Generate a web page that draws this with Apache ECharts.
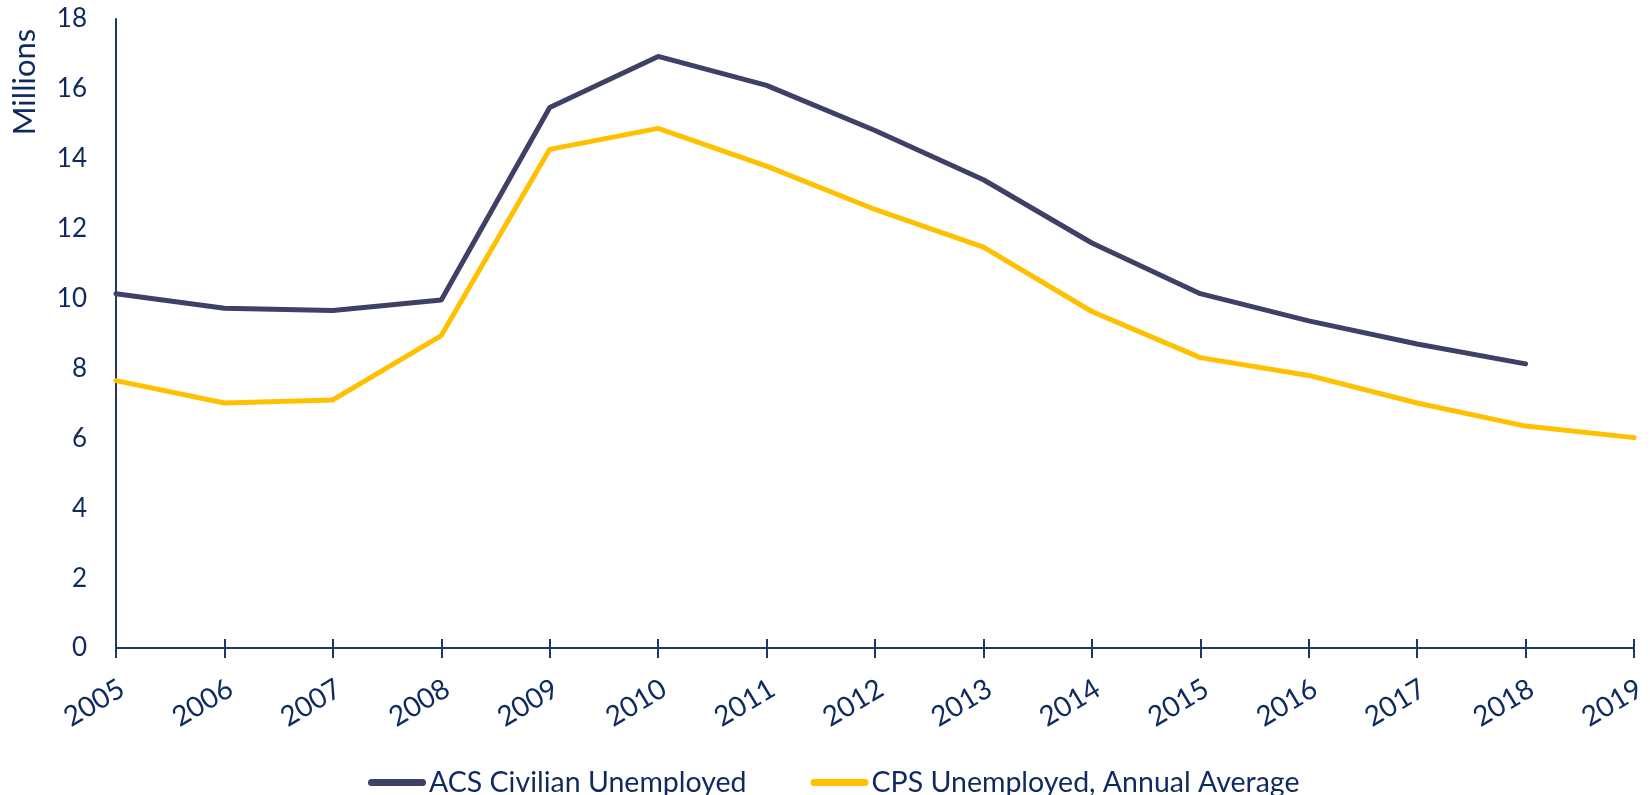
<!DOCTYPE html>
<html>
<head>
<meta charset="utf-8">
<script src="https://cdn.jsdelivr.net/npm/echarts@6/dist/echarts.min.js"></script>
<style>html,body{margin:0;padding:0;background:#fff}#c{width:1650px;height:795px}</style>
</head>
<body>
<div id="c"></div>
<script>
const years = ['2005','2006','2007','2008','2009','2010','2011','2012','2013','2014','2015','2016','2017','2018','2019'];
const acs = [10.14, 9.72, 9.66, 9.96, 15.47, 16.93, 16.1, 14.81, 13.4, 11.59, 10.14, 9.36, 8.7, 8.13, null];
const cps = [7.65, 7.01, 7.1, 8.94, 14.27, 14.87, 13.79, 12.55, 11.47, 9.63, 8.31, 7.8, 7.01, 6.35, 6.02];
const yTicks = { min: 0, max: 18, interval: 2 };
const seriesNames = ['ACS Civilian Unemployed', 'CPS Unemployed, Annual Average'];

const textColor = '#0E2A5E';
const axisColor = '#1F3864';
const font = 'Lato';

const chart = echarts.init(document.getElementById('c'));
chart.setOption({
  animation: false,
  grid: { left: 116, right: 16, top: 19, bottom: 147, containLabel: false },
  legend: {
    left: 363, top: 763,
    itemWidth: 58, itemHeight: 7, itemGap: 64,
    icon: 'path://M3.5,0 L54.5,0 A3.5,3.5 0 0 1 54.5,7 L3.5,7 A3.5,3.5 0 0 1 3.5,0 Z',
    textStyle: { color: textColor, fontFamily: font, fontSize: 28.5, padding: [0, 0, 0, -2] },
    data: seriesNames
  },
  graphic: [{
    type: 'text', x: 25, y: 82, rotation: Math.PI / 2,
    style: { text: 'Millions', fill: textColor, font: '31px Lato', align: 'center', verticalAlign: 'middle' }
  }],
  xAxis: [{
    type: 'category', data: years, boundaryGap: false,
    axisLine: { lineStyle: { color: axisColor, width: 2 } },
    axisTick: { show: true, length: 10, lineStyle: { color: axisColor, width: 2 } },
    axisLabel: { rotate: 31, margin: 42, padding: [0, -7, 0, 0], color: textColor, fontFamily: font, fontSize: 28 },
    splitLine: { show: false }
  }, {
    type: 'category', data: years, boundaryGap: false, position: 'bottom',
    axisLine: { show: false },
    axisTick: { show: true, inside: true, length: 9, lineStyle: { color: axisColor, width: 2 } },
    axisLabel: { show: false },
    splitLine: { show: false }
  }],
  yAxis: {
    type: 'value', min: yTicks.min, max: yTicks.max, interval: yTicks.interval,
    axisLine: { show: true, lineStyle: { color: axisColor, width: 2 } },
    axisTick: { show: false },
    splitLine: { show: false },
    axisLabel: { margin: 29, color: textColor, fontFamily: font, fontSize: 26 }
  },
  series: [{
    name: seriesNames[0], type: 'line', data: acs, showSymbol: false, symbol: 'none',
    lineStyle: { color: '#3E4068', width: 5, cap: 'round' }, itemStyle: { color: '#3E4068' }
  }, {
    name: seriesNames[1], type: 'line', data: cps, showSymbol: false, symbol: 'none',
    lineStyle: { color: '#FFC000', width: 5, cap: 'round' }, itemStyle: { color: '#FFC000' }
  }]
});
</script>
</body>
</html>
